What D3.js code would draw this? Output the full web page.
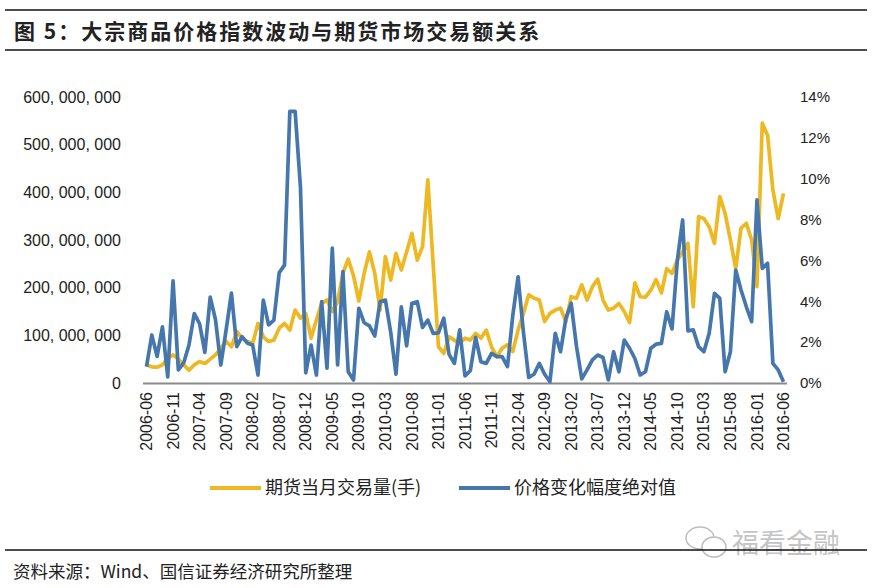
<!DOCTYPE html>
<html>
<head>
<meta charset="utf-8">
<script src="https://cdn.jsdelivr.net/npm/d3@7"></script>
<style>
  body { margin: 0; background: #fff; }
  svg { display: block; }
</style>
</head>
<body>
<svg id="line-chart" width="873" height="588"></svg>
<script>
//Monthly futures volume, millions of lots (期货当月交易量)
var volume = [
  38, 34, 33, 38, 52, 59, 50, 38, 27, 38,
  45, 41, 50, 59, 73, 87, 76, 108, 94, 87,
  83, 125, 97, 87, 90, 115, 125, 111, 153, 136,
  146, 94, 132, 167, 174, 150, 170, 230, 260, 225,
  172, 230, 275, 230, 153, 265, 216, 272, 237, 275,
  314, 258, 286, 426, 250, 76, 62, 97, 90, 83,
  94, 90, 104, 94, 111, 76, 55, 73, 80, 66,
  111, 146, 185, 178, 174, 129, 146, 153, 157, 129,
  181, 178, 206, 174, 202, 218, 174, 153, 157, 167,
  150, 127, 210, 181, 180, 195, 217, 189, 240, 230,
  258, 275, 293, 160, 349, 345, 328, 293, 391, 356,
  300, 240, 325, 335, 300, 202, 545, 520, 405, 345,
  398
];

//Absolute monthly change of commodity price index, percent (价格变化幅度绝对值)
var priceChange = [
  0.8, 2.35, 1.3, 2.75, 0.3, 5.0, 0.64, 0.98, 1.86, 3.4,
  2.9, 1.5, 4.2, 3.1, 0.88, 2.6, 4.4, 1.78, 2.27, 1.95,
  1.86, 0.39, 4.06, 2.84, 3.08, 5.4, 5.77, 13.3, 13.3, 9.6,
  0.5, 1.86, 0.39, 3.98, 0.73, 6.6, 0.88, 5.45, 0.55, 0.15,
  3.66, 2.95, 2.8, 2.3, 3.98, 4.06, 2.5, 0.43, 3.73, 1.82,
  3.9, 3.98, 2.72, 3.08, 2.43, 2.45, 3.17, 1.4, 0.96, 2.6,
  0.35, 0.6, 2.23, 1.04, 0.96, 1.45, 1.29, 1.29, 0.8, 3.3,
  5.2, 2.5, 0.27, 0.43, 0.96, 0.43, 0.06, 2.43, 1.53, 3.15,
  3.9, 1.8, 0.2, 0.64, 1.13, 1.37, 1.25, 0.15, 1.53, 0.55,
  2.1, 1.7, 1.2, 0.39, 0.55, 1.7, 1.9, 1.94, 3.49, 2.65,
  6.0, 7.98, 2.55, 2.6, 1.78, 1.53, 2.43, 4.39, 4.14, 0.55,
  1.53, 5.53, 4.55, 3.73, 3.0, 8.96, 5.61, 5.86, 0.96, 0.64,
  0.06
];

//Category labels (one per month) and the ones shown on the axis
var months = d3.timeMonth.range(new Date(2006, 5, 1), new Date(2016, 6, 1)).map(d3.timeFormat("%Y-%m"));
var tickLabels = [
  "2006-06", "2006-11", "2007-04", "2007-09", "2008-02", "2008-07", "2008-12",
  "2009-05", "2009-10", "2010-03", "2010-08", "2011-01", "2011-06", "2011-11",
  "2012-04", "2012-09", "2013-02", "2013-07", "2013-12", "2014-05", "2014-10",
  "2015-03", "2015-08", "2016-01", "2016-06"
];
var leftTicks = [0, 100, 200, 300, 400, 500, 600];
var rightTicks = [0, 2, 4, 6, 8, 10, 12, 14];

var seriesNames = ["期货当月交易量(手)", "价格变化幅度绝对值"];
var colors = ["#EEB822", "#4677AC"];

var cjk = "'Noto Sans CJK SC', sans-serif";
var latin = "'Liberation Sans', Arial, sans-serif";

var svg = d3.select("#line-chart");

svg.append("rect").attr("width", 873).attr("height", 588).attr("fill", "#fff");

//Header rules and title
svg.append("line").attr("x1", 5).attr("x2", 867).attr("y1", 10).attr("y2", 10)
   .attr("stroke", "#111").attr("stroke-width", 1.5);
svg.append("line").attr("x1", 5).attr("x2", 867).attr("y1", 50).attr("y2", 50)
   .attr("stroke", "#111").attr("stroke-width", 1.5);
svg.append("text")
   .attr("x", 14).attr("y", 39)
   .attr("font-family", cjk).attr("font-weight", "bold").attr("font-size", 21)
   .attr("letter-spacing", 2).attr("fill", "#222")
   .text("图 5：大宗商品价格指数波动与期货市场交易额关系");

//Scales
var x = d3.scalePoint().domain(months).range([146.5, 783.5]);
var yLeft = d3.scaleLinear().domain([0, 600]).range([383, 97]);
var yRight = d3.scaleLinear().domain([0, 14]).range([383, 97]);

//Left axis labels
var fmtLeft = function(d) { return d3.format(",")(d * 1e6).replace(/,/g, ", "); };
svg.append("g")
   .selectAll("text")
   .data(leftTicks)
   .join("text")
   .attr("x", 121).attr("y", function(d) { return yLeft(d); })
   .attr("dy", "0.35em").attr("text-anchor", "end")
   .attr("font-family", latin).attr("font-size", 16).attr("fill", "#222")
   .text(fmtLeft);

//Right axis labels
svg.append("g")
   .selectAll("text")
   .data(rightTicks)
   .join("text")
   .attr("x", 800).attr("y", function(d) { return yRight(d); })
   .attr("dy", "0.35em")
   .attr("font-family", latin).attr("font-size", 15).attr("fill", "#222")
   .text(function(d) { return d + "%"; });

//Category axis line
svg.append("line")
   .attr("x1", 143).attr("x2", 787).attr("y1", 383.5).attr("y2", 383.5)
   .attr("stroke", "#8a8a8a").attr("stroke-width", 2);

//Rotated month labels
svg.append("g")
   .selectAll("text")
   .data(tickLabels)
   .join("text")
   .attr("transform", function(d) { return "translate(" + x(d) + ",392) rotate(-90)"; })
   .attr("dy", "0.35em").attr("text-anchor", "end")
   .attr("font-family", latin).attr("font-size", 16).attr("fill", "#222")
   .text(function(d) { return d; });

//Lines
var volLine = d3.line()
   .x(function(d, i) { return x(months[i]); })
   .y(function(d) { return yLeft(d); });
var pctLine = d3.line()
   .x(function(d, i) { return x(months[i]); })
   .y(function(d) { return yRight(d); });

svg.append("path")
   .datum(volume)
   .attr("fill", "none").attr("stroke", colors[0]).attr("stroke-width", 3.7)
   .attr("stroke-linejoin", "round")
   .attr("d", volLine);

svg.append("path")
   .datum(priceChange)
   .attr("fill", "none").attr("stroke", colors[1]).attr("stroke-width", 3.7)
   .attr("stroke-linejoin", "round")
   .attr("d", pctLine);

//Legend
var legend = svg.append("g")
   .selectAll("g")
   .data(seriesNames)
   .join("g")
   .attr("transform", function(d, i) { return "translate(" + (210 + i * 249) + ",488)"; });
legend.append("line")
   .attr("x1", 0).attr("x2", 51)
   .attr("stroke", function(d, i) { return colors[i]; }).attr("stroke-width", 4);
legend.append("text")
   .attr("x", 55).attr("dy", "0.35em")
   .attr("font-family", cjk).attr("font-size", 18).attr("fill", "#222")
   .text(function(d) { return d; });

//Watermark
var wm = svg.append("g").attr("fill", "none").attr("stroke", "#bdbdbd").attr("stroke-width", 1.5);
wm.append("ellipse").attr("cx", 700).attr("cy", 538).attr("rx", 14).attr("ry", 11);
wm.append("ellipse").attr("cx", 714).attr("cy", 547).attr("rx", 12).attr("ry", 10).attr("fill", "#fff");
svg.append("text")
   .attr("x", 732).attr("y", 553)
   .attr("font-family", cjk).attr("font-size", 27).attr("fill", "#c4c4c4")
   .text("福看金融");

//Footer rule and source
svg.append("line").attr("x1", 5).attr("x2", 867).attr("y1", 550).attr("y2", 550)
   .attr("stroke", "#111").attr("stroke-width", 1.5);
svg.append("text")
   .attr("x", 13).attr("y", 578)
   .attr("font-family", cjk).attr("font-size", 17.5).attr("fill", "#222")
   .text("资料来源：Wind、国信证券经济研究所整理");
</script>
</body>
</html>
